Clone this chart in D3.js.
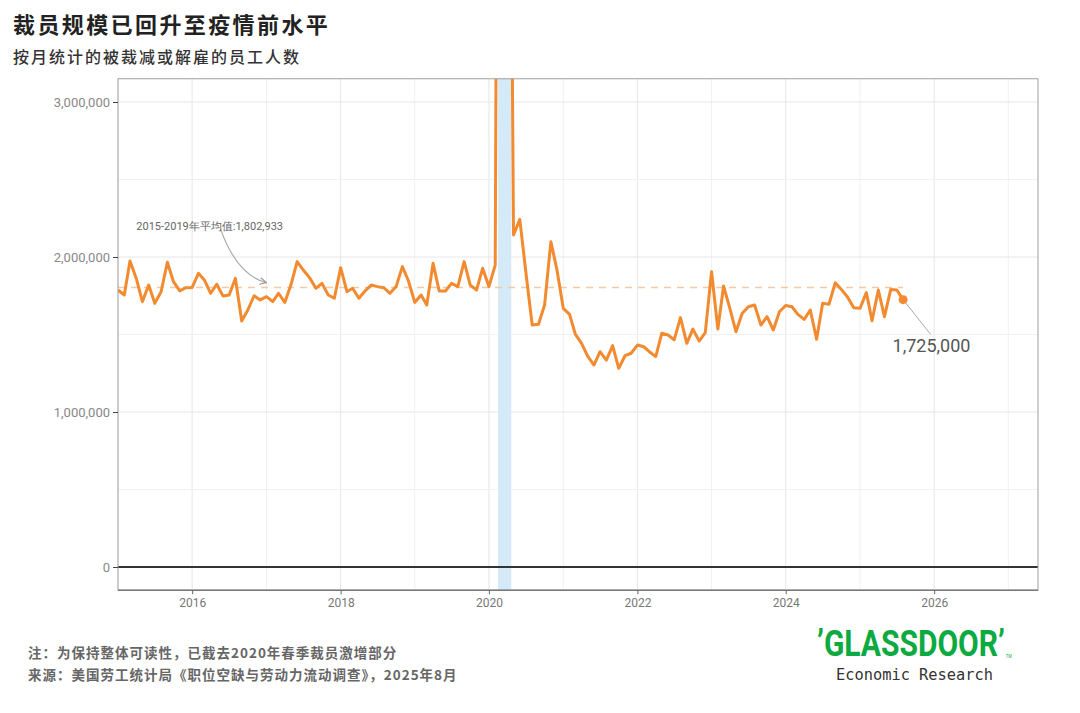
<!DOCTYPE html>
<html>
<head>
<meta charset="utf-8">
<script src="https://cdn.jsdelivr.net/npm/d3@7"></script>
<style>
  body { margin: 0; background: #fff; }
  svg { display: block; }
</style>
</head>
<body>
<svg id="chart" width="1080" height="713"></svg>
<script>
// ---------------- DATA ----------------
const startMonth = "2015-01";   // first observation (monthly series)
const endMonth = "2025-08";     // last observation

// Layoffs and discharges, monthly (persons)
const layoffs = [
  // 2015
  1787000, 1755000, 1974000, 1862000, 1712000, 1819000, 1701000, 1776000, 1966000, 1841000, 1781000, 1802000,
  // 2016
  1804000, 1895000, 1852000, 1766000, 1824000, 1748000, 1755000, 1862000, 1587000, 1658000, 1750000, 1723000,
  // 2017
  1744000, 1712000, 1766000, 1707000, 1819000, 1970000, 1916000, 1867000, 1798000, 1830000, 1755000, 1734000,
  // 2018
  1931000, 1776000, 1798000, 1734000, 1781000, 1819000, 1809000, 1802000, 1766000, 1809000, 1938000, 1845000,
  // 2019
  1707000, 1755000, 1690000, 1959000, 1781000, 1781000, 1830000, 1809000, 1970000, 1819000, 1787000, 1927000,
  // 2020
  1809000, 1948000, 11500000, 7700000, 2142000, 2243000, 1900000, 1561000, 1566000, 1690000, 2099000, 1916000,
  // 2021
  1669000, 1630000, 1503000, 1443000, 1361000, 1303000, 1389000, 1335000, 1428000, 1282000, 1363000, 1379000,
  // 2022
  1432000, 1421000, 1389000, 1357000, 1508000, 1497000, 1465000, 1609000, 1443000, 1535000, 1458000, 1512000,
  // 2023
  1905000, 1535000, 1813000, 1669000, 1518000, 1637000, 1679000, 1690000, 1561000, 1615000, 1529000, 1647000,
  // 2024
  1687000, 1679000, 1630000, 1598000, 1658000, 1469000, 1701000, 1695000, 1834000, 1791000, 1740000, 1673000,
  // 2025
  1669000, 1770000, 1589000, 1787000, 1615000, 1791000, 1787000, 1725000
];

const meanValue = 1802933;                      // 2015-2019 average
const meanLabel = "2015-2019年平均值:1,802,933";
const lastLabel = "1,725,000";

const recession = ["2020-02-15", "2020-04-20"];

const yTicks = [0, 1000000, 2000000, 3000000];
const yMinorTicks = [500000, 1500000, 2500000];
const xDomain = ["2015-01-01", "2027-05-27"];
const yDomain = [-150000, 3150000];

const title = "裁员规模已回升至疫情前水平";
const subtitle = "按月统计的被裁减或解雇的员工人数";
const note1 = "注：为保持整体可读性，已截去2020年春季裁员激增部分";
const note2 = "来源：美国劳工统计局《职位空缺与劳动力流动调查》，2025年8月";

// annotation anchors in data space
const meanArrowFrom = ["2016-05-20", 2180000];
const meanArrowCtrl = ["2016-08-10", 1880000];
const meanArrowTo = ["2017-01-01", 1835000];
const meanTextAt = ["2015-04-01", 2175000];
const lastLeaderTo = ["2025-12-15", 1500000];
const lastTextAt = ["2025-06-10", 1385000];

// ---------------- CHART ----------------
const parse = d3.timeParse("%Y-%m-%d");
const parseM = d3.timeParse("%Y-%m");
const months = d3.timeMonth.range(parseM(startMonth), d3.timeMonth.offset(parseM(endMonth), 1));
const data = months.map((d, i) => ({ date: d, value: layoffs[i] }));

const svg = d3.select("#chart");
const W = 1080, H = 713;
svg.append("rect").attr("width", W).attr("height", H).attr("fill", "#fff");

const panel = { left: 118, right: 1038, top: 78.75, bottom: 590.25 };

const x = d3.scaleTime().domain(xDomain.map(parse)).range([panel.left, panel.right]);
const y = d3.scaleLinear().domain(yDomain).range([panel.bottom, panel.top]);

const cjk = "'Noto Sans CJK SC', 'Noto Sans', sans-serif";
const num = "Roboto, 'Noto Sans', sans-serif";

// titles
svg.append("text").attr("x", 13).attr("y", 33)
  .attr("font-family", cjk).attr("font-weight", 700).attr("font-size", 22)
  .attr("letter-spacing", 2.4).attr("fill", "#222").text(title);
svg.append("text").attr("x", 13).attr("y", 63)
  .attr("font-family", cjk).attr("font-weight", 500).attr("font-size", 16)
  .attr("letter-spacing", 2).attr("fill", "#333").text(subtitle);

// grid
const g = svg.append("g");
const years = d3.timeYear.range(parse("2015-01-01"), parse("2027-12-31"));
g.selectAll(".vgrid").data(years).join("line")
  .attr("x1", d => x(d)).attr("x2", d => x(d))
  .attr("y1", panel.top).attr("y2", panel.bottom)
  .attr("stroke", d => d.getFullYear() % 2 === 0 ? "#e6e6e6" : "#f1f1f1")
  .attr("stroke-width", 1);
g.selectAll(".hgrid").data(yTicks.concat(yMinorTicks)).join("line")
  .attr("x1", panel.left).attr("x2", panel.right)
  .attr("y1", d => y(d)).attr("y2", d => y(d))
  .attr("stroke", d => yTicks.includes(d) ? "#e6e6e6" : "#f1f1f1")
  .attr("stroke-width", 1);

// recession band
g.append("rect")
  .attr("x", x(parse(recession[0])))
  .attr("width", x(parse(recession[1])) - x(parse(recession[0])))
  .attr("y", panel.top).attr("height", panel.bottom - panel.top)
  .attr("fill", "#d5eaf8");

// zero line
g.append("line").attr("x1", panel.left).attr("x2", panel.right)
  .attr("y1", y(0)).attr("y2", y(0)).attr("stroke", "#333").attr("stroke-width", 2);

// mean dashed line
g.append("line")
  .attr("x1", x(months[0])).attr("x2", x(months[months.length - 1]))
  .attr("y1", y(meanValue)).attr("y2", y(meanValue))
  .attr("stroke", "#f6c9a5").attr("stroke-width", 1.6).attr("stroke-dasharray", "7,6");

// clip
svg.append("clipPath").attr("id", "clip").append("rect")
  .attr("x", panel.left).attr("y", panel.top)
  .attr("width", panel.right - panel.left).attr("height", panel.bottom - panel.top);

// data line
svg.append("path").datum(data)
  .attr("clip-path", "url(#clip)")
  .attr("fill", "none").attr("stroke", "#f28a30").attr("stroke-width", 3)
  .attr("stroke-linejoin", "round")
  .attr("d", d3.line().x(d => x(d.date)).y(d => y(d.value)));

// panel border
svg.append("rect").attr("x", panel.left).attr("y", panel.top)
  .attr("width", panel.right - panel.left).attr("height", panel.bottom - panel.top)
  .attr("fill", "none").attr("stroke", "#a0a0a0").attr("stroke-width", 1);
svg.append("line").attr("x1", panel.left).attr("x2", panel.right)
  .attr("y1", panel.bottom).attr("y2", panel.bottom).attr("stroke", "#777").attr("stroke-width", 1.3);

// axes
const yAxis = svg.append("g").attr("transform", `translate(${panel.left},0)`)
  .call(d3.axisLeft(y).tickValues(yTicks).tickFormat(d3.format(",")).tickSize(5).tickPadding(3));
yAxis.select(".domain").remove();
yAxis.selectAll("line").attr("stroke", "#444");
yAxis.selectAll("text").attr("font-family", num).attr("font-size", 13).attr("fill", "#888");

const xAxis = svg.append("g").attr("transform", `translate(0,${panel.bottom})`)
  .call(d3.axisBottom(x).ticks(d3.timeYear.every(2)).tickFormat(d3.timeFormat("%Y")).tickSize(4).tickPadding(4));
xAxis.select(".domain").remove();
xAxis.selectAll("line").attr("stroke", "#666");
xAxis.selectAll("text").attr("font-family", num).attr("font-size", 12).attr("fill", "#777");

// mean annotation
const P = a => [x(parse(a[0])), y(a[1])];
const [ax0, ay0] = P(meanArrowFrom), [axc, ayc] = P(meanArrowCtrl), [ax1, ay1] = P(meanArrowTo);
svg.append("defs").append("marker").attr("id", "arr")
  .attr("viewBox", "0 0 10 10").attr("refX", 9).attr("refY", 5)
  .attr("markerWidth", 7).attr("markerHeight", 7).attr("orient", "auto")
  .append("path").attr("d", "M1,1 L9,5 L1,9").attr("fill", "none").attr("stroke", "#999").attr("stroke-width", 1.4);
svg.append("path")
  .attr("d", `M${ax0},${ay0} Q${axc},${ayc} ${ax1},${ay1}`)
  .attr("fill", "none").attr("stroke", "#aaa").attr("stroke-width", 1.2)
  .attr("marker-end", "url(#arr)");
const [tx, ty] = P(meanTextAt);
svg.append("text").attr("x", tx).attr("y", ty)
  .attr("font-family", num).attr("font-size", 11).attr("fill", "#666").text(meanLabel);

// last point annotation
const last = data[data.length - 1];
const [lx1, ly1] = P(lastLeaderTo);
svg.append("line").attr("x1", x(last.date)).attr("y1", y(last.value))
  .attr("x2", lx1).attr("y2", ly1).attr("stroke", "#aaa").attr("stroke-width", 1);
svg.append("circle").attr("cx", x(last.date)).attr("cy", y(last.value)).attr("r", 4.5).attr("fill", "#f28a30");
const [ltx, lty] = P(lastTextAt);
svg.append("text").attr("x", ltx).attr("y", lty)
  .attr("font-family", num).attr("font-size", 18).attr("fill", "#555").text(lastLabel);

// footnotes
svg.append("text").attr("x", 28).attr("y", 658)
  .attr("font-family", cjk).attr("font-weight", 700).attr("font-size", 13.5)
  .attr("letter-spacing", 1).attr("fill", "#666").text(note1);
svg.append("text").attr("x", 28).attr("y", 680)
  .attr("font-family", cjk).attr("font-weight", 700).attr("font-size", 13.5)
  .attr("letter-spacing", 1).attr("fill", "#666").text(note2);

// logo (horizontally condensed via transform, TM as part of the same text)
const logo = svg.append("text").attr("x", 0).attr("y", 0)
  .attr("font-family", "Roboto, 'DejaVu Sans', sans-serif").attr("font-weight", 700).attr("font-size", 37)
  .attr("fill", "#0caa41").text("’GLASSDOOR’");
const logoLen = logo.node().getComputedTextLength();
const sx = 188 / logoLen;
logo.attr("transform", `translate(817,656) scale(${sx},1)`);
logo.append("tspan").attr("font-size", 5).attr("font-weight", 400).attr("dx", 1).attr("dy", 2).text("TM");
svg.append("text").attr("x", 836).attr("y", 680)
  .attr("font-family", "'DejaVu Sans Mono', monospace").attr("font-size", 15)
  .attr("textLength", 157).attr("lengthAdjust", "spacingAndGlyphs")
  .attr("fill", "#333").text("Economic Research");
</script>
</body>
</html>
